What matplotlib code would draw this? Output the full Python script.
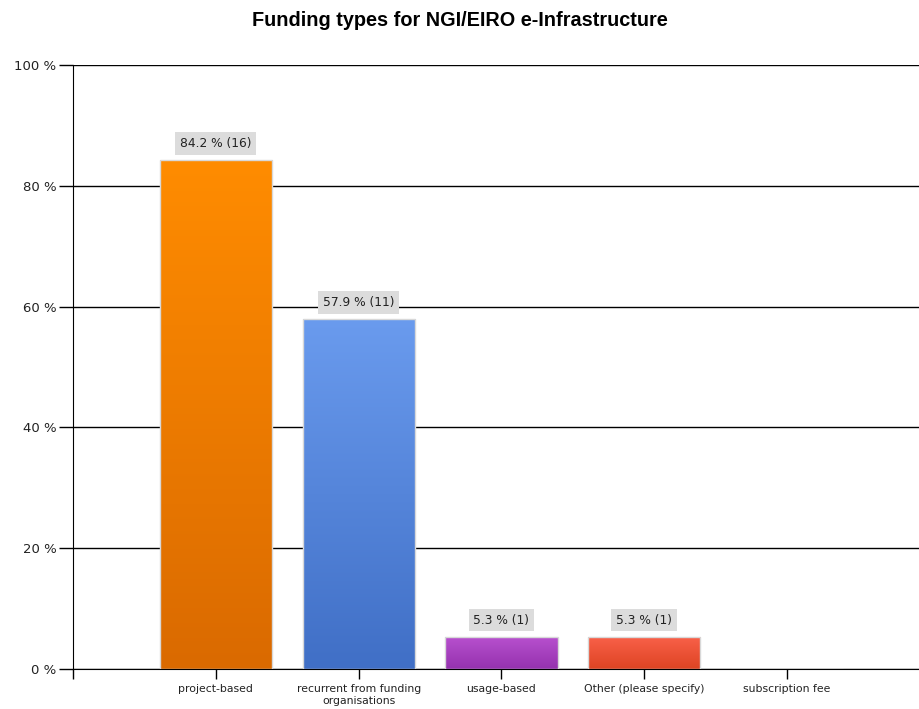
import numpy as np
import matplotlib
matplotlib.use('Agg')
import matplotlib.pyplot as plt
from matplotlib.colors import LinearSegmentedColormap

plt.rcParams['font.family'] = ['DejaVu Sans']

# data
categories = ['project-based', 'recurrent from funding\norganisations', 'usage-based',
              'Other (please specify)', 'subscription fee']
percents = [84.2, 57.9, 5.3, 5.3, 0.0]
counts = [16, 11, 1, 1, 0]
top_colors = ['#FF8C00', '#6A9BEE', '#B851CF', '#F9614A', '#888888']
bottom_colors = ['#DA6A00', '#406FC6', '#9532AE', '#DE4423', '#888888']

fig = plt.figure(figsize=(9.2, 7.09), dpi=100)
ax = fig.add_axes([73 / 920, 40 / 709, 1 - 73 / 920, (669 - 65) / 709])

x = np.arange(len(categories))
bars = ax.bar(x, percents, width=0.785, color='none', edgecolor='#D8D8D8', linewidth=1, zorder=3)

grad = np.linspace(0, 1, 256).reshape(-1, 1)
for b, c1, c2, p, n in zip(bars, top_colors, bottom_colors, percents, counts):
    if p <= 0:
        continue
    cmap = LinearSegmentedColormap.from_list('g', [c1, c2])
    x0 = b.get_x()
    im = ax.imshow(grad, cmap=cmap, aspect='auto', zorder=2,
                   extent=[x0, x0 + b.get_width(), 0, p], origin='upper')
    im.set_clip_path(b)
    ax.annotate('%.1f %% (%d)' % (p, n), (b.get_x() + b.get_width() / 2, p),
                xytext=(0, 7.5), textcoords='offset points', ha='center', va='bottom',
                fontsize=8.8, color='#222222', zorder=4,
                bbox=dict(boxstyle='square,pad=0.4', fc='#DCDCDC', ec='none'))

ax.set_xlim(-1.0, 4.93)
ax.set_ylim(0, 100)

ax.set_yticks([0, 20, 40, 60, 80, 100])
ax.set_yticklabels(['%d %%' % v for v in [0, 20, 40, 60, 80, 100]], fontsize=9.5, color='#222222')
ax.tick_params(axis='y', length=10, width=1, pad=2)
ax.yaxis.grid(True, color='black', linewidth=1)
ax.set_axisbelow(True)

ax.set_xticks([-1] + list(x))
ax.set_xticklabels([''] + categories, fontsize=7.8, color='#222222', linespacing=1.25)
ax.tick_params(axis='x', length=7, width=1, pad=3.5)

for s in ['top', 'right']:
    ax.spines[s].set_visible(False)

fig.text(0.5, 1 - 26 / 709, 'Funding types for NGI/EIRO e-Infrastructure', ha='center', va='baseline',
         fontsize=14.3, fontweight='bold', family=['Liberation Sans', 'DejaVu Sans'])

fig.savefig('out.png', dpi=100)
